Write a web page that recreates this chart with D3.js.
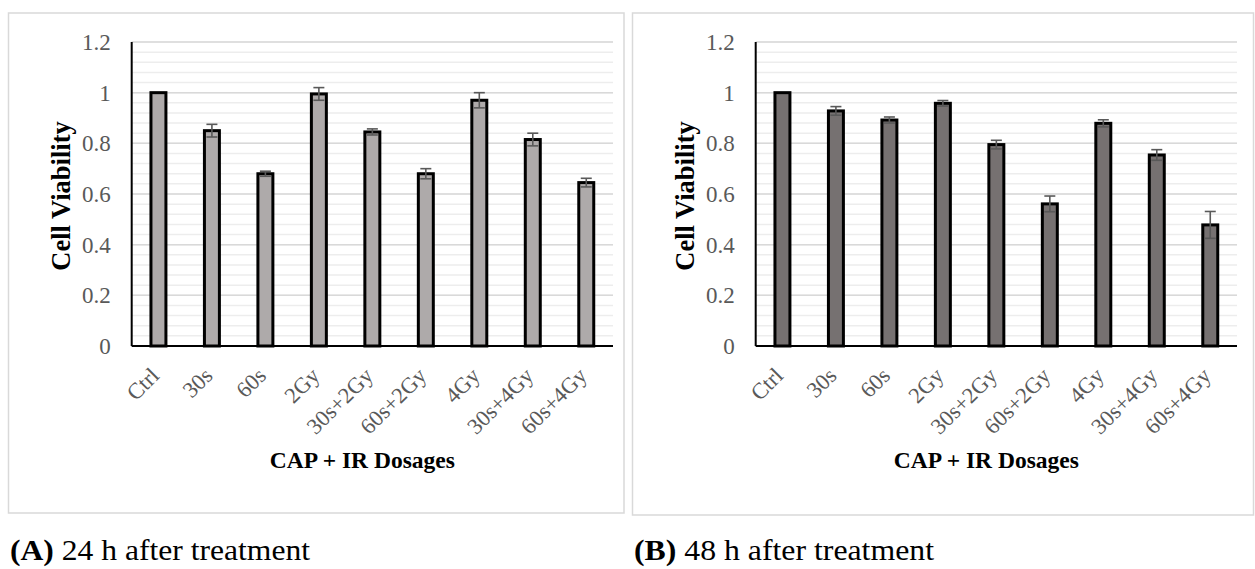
<!DOCTYPE html>
<html>
<head>
<meta charset="utf-8">
<script src="https://cdn.jsdelivr.net/npm/d3@7"></script>
<style>
  body { margin: 0; background: #fff; }
  text { font-family: "Liberation Serif", "Times New Roman", serif; }
</style>
</head>
<body>
<div id="chart"></div>
<script>
// data
var dosages = ["Ctrl", "30s", "60s", "2Gy", "30s+2Gy", "60s+2Gy", "4Gy", "30s+4Gy", "60s+4Gy"];
var viability24 = [1.0, 0.85, 0.68, 0.995, 0.845, 0.68, 0.97, 0.815, 0.645];
var error24 = [0, 0.025, 0.01, 0.025, 0.012, 0.02, 0.03, 0.025, 0.017];
var viability48 = [1.0, 0.928, 0.892, 0.958, 0.795, 0.561, 0.879, 0.754, 0.478];
var error48 = [0, 0.017, 0.012, 0.011, 0.017, 0.031, 0.014, 0.021, 0.053];
var yTicks = [0, 0.2, 0.4, 0.6, 0.8, 1, 1.2];
var captions = [["(A)", " 24 h after treatment"], ["(B)", " 48 h after treatment"]];

var svgWidth = 1255;
var svgHeight = 569;

var svg = d3
  .select("#chart")
  .append("svg")
  .attr("width", svgWidth)
  .attr("height", svgHeight);

// one panel = border box + plot + titles + caption
function drawPanel(opts) {
  var g = svg.append("g").attr("transform", "translate(" + opts.dx + ",0)");

  g.append("rect")
    .attr("x", 8.5)
    .attr("y", 13)
    .attr("width", opts.boxW)
    .attr("height", opts.boxH)
    .attr("fill", "#fff")
    .attr("stroke", "#d9d9d9")
    .attr("stroke-width", 1.5);

  var left = 131.7, right = 613, top = 42, bottom = 346;

  var yScale = d3.scaleLinear().domain([0, 1.2]).range([bottom, top]);
  var xScale = d3.scaleBand()
    .domain(dosages)
    .range([left, right])
    .paddingInner(0.72)
    .paddingOuter(0.36);

  // minor then major gridlines
  var minor = d3.range(0, 1.2001, 0.04);
  g.append("g")
    .selectAll("line")
    .data(minor)
    .enter()
    .append("line")
    .attr("x1", left)
    .attr("x2", right)
    .attr("y1", function(d) { return yScale(d); })
    .attr("y2", function(d) { return yScale(d); })
    .attr("stroke", "#ededed")
    .attr("stroke-width", 1.5);

  g.append("g")
    .selectAll("line")
    .data(yTicks)
    .enter()
    .append("line")
    .attr("x1", left)
    .attr("x2", right)
    .attr("y1", function(d) { return yScale(d); })
    .attr("y2", function(d) { return yScale(d); })
    .attr("stroke", "#d9d9d9")
    .attr("stroke-width", 1.5);

  // y axis labels
  var yAxis = d3.axisLeft(yScale)
    .tickValues(yTicks)
    .tickSize(0)
    .tickPadding(21)
    .tickFormat(function(d) { return String(+d.toFixed(1)); });

  var yg = g.append("g")
    .attr("transform", "translate(" + left + ",0)")
    .call(yAxis);
  yg.select(".domain").remove();
  yg.selectAll("text")
    .attr("font-size", 23)
    .attr("font-family", "Liberation Serif")
    .attr("fill", "#595959");

  // bars
  var barData = dosages.map(function(d, i) {
    return { name: d, value: opts.values[i], err: opts.errors[i] };
  });

  g.append("g")
    .selectAll("rect")
    .data(barData)
    .enter()
    .append("rect")
    .attr("x", function(d) { return xScale(d.name); })
    .attr("y", function(d) { return yScale(d.value); })
    .attr("width", xScale.bandwidth())
    .attr("height", function(d) { return yScale(0) - yScale(d.value); })
    .attr("fill", opts.fill)
    .attr("stroke", "#000")
    .attr("stroke-width", 3);

  // error bars
  var eb = g.append("g")
    .selectAll("g")
    .data(barData.filter(function(d) { return d.err > 0; }))
    .enter()
    .append("g")
    .attr("stroke", "#595959")
    .attr("stroke-width", 1.6);

  var cx = function(d) { return xScale(d.name) + xScale.bandwidth() / 2; };
  eb.append("line")
    .attr("x1", cx).attr("x2", cx)
    .attr("y1", function(d) { return yScale(d.value + d.err); })
    .attr("y2", function(d) { return yScale(d.value - d.err); });
  eb.append("line")
    .attr("x1", function(d) { return cx(d) - 5.5; })
    .attr("x2", function(d) { return cx(d) + 5.5; })
    .attr("y1", function(d) { return yScale(d.value + d.err); })
    .attr("y2", function(d) { return yScale(d.value + d.err); });
  eb.append("line")
    .attr("x1", function(d) { return cx(d) - 5.5; })
    .attr("x2", function(d) { return cx(d) + 5.5; })
    .attr("y1", function(d) { return yScale(d.value - d.err); })
    .attr("y2", function(d) { return yScale(d.value - d.err); });

  // axis lines
  g.append("line")
    .attr("x1", left).attr("x2", left)
    .attr("y1", top).attr("y2", bottom)
    .attr("stroke", "#000").attr("stroke-width", 2);
  g.append("line")
    .attr("x1", left).attr("x2", right)
    .attr("y1", bottom).attr("y2", bottom)
    .attr("stroke", "#000").attr("stroke-width", 2);

  // rotated category labels
  g.append("g")
    .selectAll("text")
    .data(dosages)
    .enter()
    .append("text")
    .attr("transform", function(d) {
      return "translate(" + (xScale(d) + xScale.bandwidth() / 2 + 2) + "," + 377 + ") rotate(-45)";
    })
    .attr("text-anchor", "end")
    .attr("font-size", 22.5)
    .attr("fill", "#595959")
    .text(function(d) { return d; });

  // axis titles
  g.append("text")
    .attr("transform", "translate(70,196) rotate(-90)")
    .attr("text-anchor", "middle")
    .attr("font-size", 26.5)
    .attr("font-weight", "bold")
    .text("Cell Viability");

  g.append("text")
    .attr("x", (left + right) / 2 - 10)
    .attr("y", 468)
    .attr("text-anchor", "middle")
    .attr("font-size", 23.5)
    .attr("font-weight", "bold")
    .text("CAP + IR Dosages");

  // caption under the box
  var cap = g.append("text")
    .attr("x", 10)
    .attr("y", 560)
    .attr("font-size", 30)
    .attr("textLength", 300)
    .attr("lengthAdjust", "spacingAndGlyphs");
  cap.append("tspan").attr("font-weight", "bold").text(opts.caption[0]);
  cap.append("tspan").text(opts.caption[1]);
}

drawPanel({ dx: 0, boxW: 615.5, boxH: 500, values: viability24, errors: error24,
  fill: "#aeaaaa", caption: captions[0] });
drawPanel({ dx: 624, boxW: 621, boxH: 502, values: viability48, errors: error48,
  fill: "#767171", caption: captions[1] });
</script>
</body>
</html>
